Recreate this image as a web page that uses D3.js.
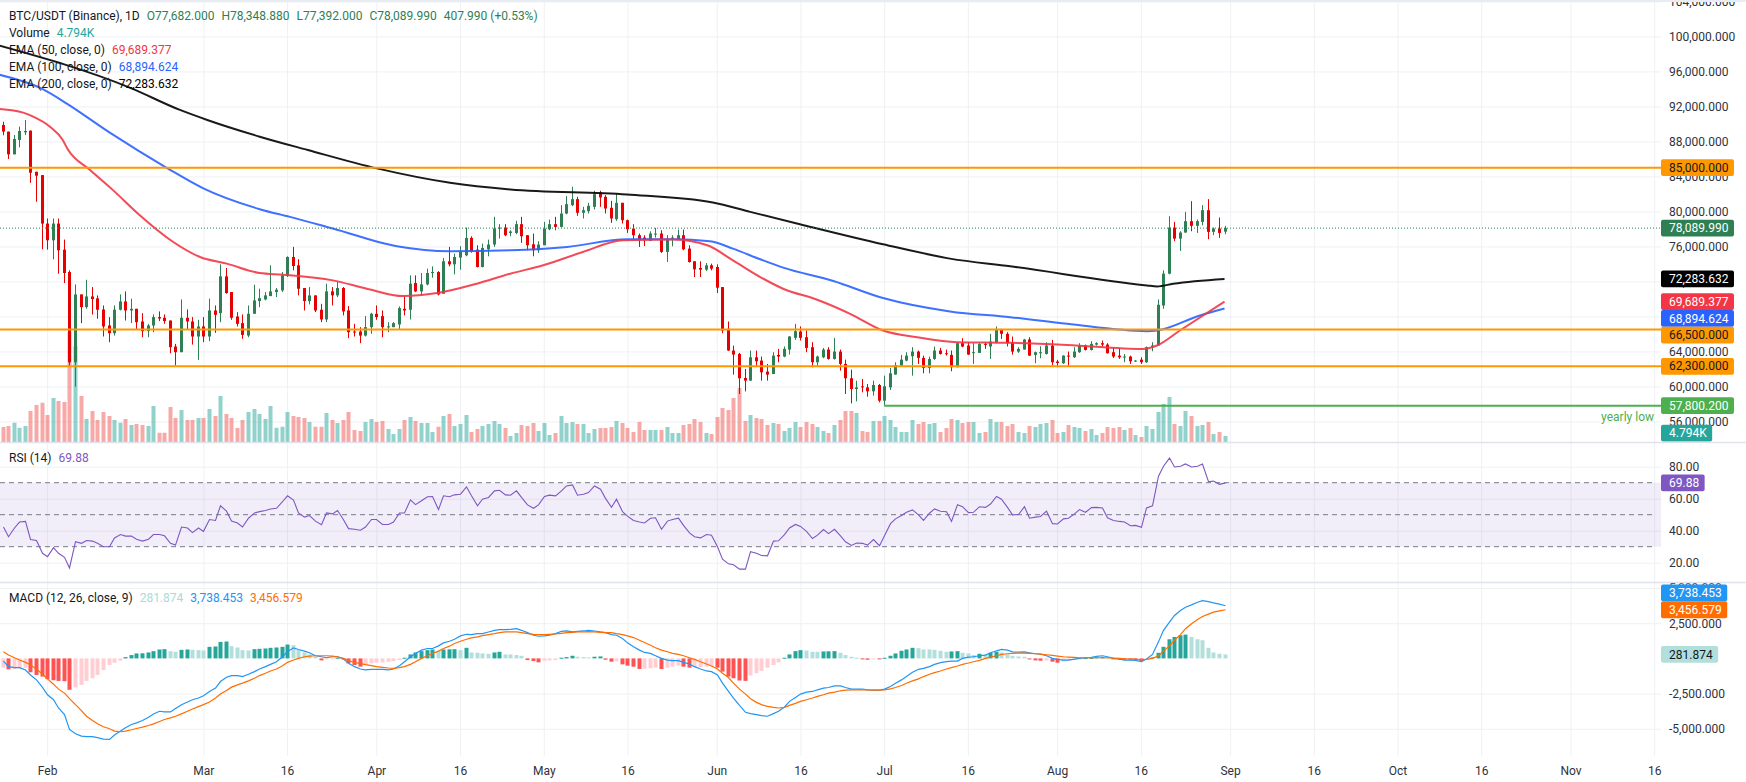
<!DOCTYPE html>
<html>
<head>
<meta charset="utf-8">
<script src="https://cdn.jsdelivr.net/npm/d3@7"></script>
<style>
  body { margin: 0; background: #fff; }
  svg { display: block; font-family: Roboto, "Noto Sans", sans-serif; }
</style>
</head>
<body>
<svg id="chart" width="1746" height="782"></svg>
<script>
// first candle is 24 Jan 2026, one candle per day
var startDay = Date.UTC(2026, 0, 24);

var opens = [
  89880,89120,86520,88160,89040,89230,84530,84150,78610,76700,
  78610,75630,73070,62760,70510,69060,70280,70060,68790,66960,
  66080,68760,69710,68680,68870,67420,66310,66960,67920,67840,
  67530,64560,63910,67840,67420,65700,66850,65700,68680,68370,
  72580,70780,67990,67230,65810,68300,69750,69940,70320,70780,
  70970,72610,74790,73840,71240,69750,70400,68760,67650,70860,
  70400,71240,68680,66270,66270,65810,66770,68300,68030,66770,
  66770,67080,68870,68760,71810,70860,71660,72960,73070,70590,
  74300,73950,74720,74980,76970,75630,73650,75670,76210,78040,
  78150,77540,77540,78540,77280,76240,75560,76130,77960,78540,
  78230,79760,80710,81400,79840,80030,80520,82130,81670,80410,
  79110,80980,78990,78040,77280,77010,76630,77350,77470,75370,
  76890,76780,77280,75750,74300,73530,73340,73840,73650,71350,
  66580,64100,63710,60960,60660,63330,62950,61690,61420,63600,
  63410,64210,65550,66270,65620,64480,62760,63330,64210,63140,
  63980,62570,60930,59700,60010,59890,59440,60160,58370,59890,
  61350,62380,62950,63450,63980,63260,62110,63140,64100,63790,
  63600,62190,64940,64670,63830,63830,64860,64560,65050,66460,
  66010,65050,63980,64210,65360,63600,63790,63710,64670,62840,
  62650,63520,63330,63910,64670,64170,64780,64940,64780,63910,
  63520,63330,63410,62870,63060,62760,64480,64670,69250,72880,
  78150,76890,77580,78880,78350,78800,80140,77660,78040,77682
];
var highs = [
  90250,89120,88740,89690,90450,89230,84530,84150,79190,79190,
  79190,76780,73270,71660,70510,72190,71350,70400,69250,67920,
  69250,70510,70860,70020,68870,68370,67150,68220,68570,68220,
  67530,64860,69940,68790,67920,67610,67920,70020,69250,73950,
  73530,70780,68490,68220,69250,71620,71160,70780,73840,71240,
  73070,74870,75940,74530,71240,71350,70400,69440,71740,71350,
  71930,71350,69180,67150,66770,68030,68400,69250,68680,67340,
  67340,69140,70400,72690,72690,72960,73460,73720,73170,74680,
  75940,75170,76020,78150,77160,76130,76320,76780,79380,78540,
  78540,77850,78920,79380,77280,77470,76590,78800,79070,79380,
  80710,81750,82810,81670,80520,80980,82360,82360,81860,81210,
  81970,80980,79070,78540,77470,77280,77730,78120,77850,77280,
  77280,77920,77920,76130,74300,74300,74100,74030,73950,71350,
  67420,64670,63830,62000,64100,64100,63410,62570,63910,64290,
  64560,65750,67150,66850,66390,65050,63520,64400,64480,65550,
  64210,63060,61920,60660,60850,60280,60660,60280,61230,62110,
  62760,63600,63910,64480,64100,63520,63410,64560,64400,64210,
  64100,65050,65510,65050,64940,64940,65050,66010,66850,66580,
  66200,65700,64480,65430,65620,63980,64590,65050,65320,63030,
  63560,63980,64480,64940,64780,65170,65050,65240,64940,64480,
  64400,63710,63520,63000,63330,64560,65050,69940,73260,79450,
  78800,77730,79950,81170,79070,80710,81400,78150,79300,78348.88
];
var lows = [
  88700,85990,86520,87320,88740,83270,81100,75670,75630,74520,
  72880,71810,62260,59970,67230,68870,68220,67730,65700,65050,
  65810,68680,67530,67230,66460,65620,65620,66200,67460,67150,
  63790,62380,63910,66460,64780,63030,65050,65170,66120,67340,
  70590,67610,66850,65430,65620,68300,69060,69830,70320,70210,
  70780,72500,73260,70400,68680,69370,68490,67340,67340,69250,
  70210,68110,65510,65700,64940,65700,66010,67610,65620,66200,
  66770,66500,68110,67650,70780,70400,71550,72420,70400,70590,
  73720,72810,73340,74870,75290,73600,73600,74870,75940,76890,
  77160,77160,77390,76400,75560,74870,75250,76130,77850,77850,
  78150,79680,80600,79490,79190,79760,80220,80520,79760,78690,
  78920,78610,77540,76700,75940,76050,76630,77010,75250,74220,
  76010,76780,75560,74150,72500,72500,73190,73260,70670,66080,
  64050,61350,59130,59430,60660,62260,60660,60660,61420,62760,
  63330,63640,65320,65240,63910,62190,62260,63220,63060,63060,
  61800,59130,58060,58290,59320,58820,58940,58180,57800,59590,
  61350,62260,62870,61230,62570,61500,61500,63030,63640,63520,
  61730,62190,64480,63600,62570,63830,64290,63140,64940,65430,
  64560,63640,63830,64210,63480,62650,63220,63640,62380,62190,
  62570,62300,63260,63830,64100,64100,64670,64560,63750,63260,
  63140,62760,62570,62800,62570,62680,64020,64670,68870,72810,
  76590,75480,77580,77730,77540,78420,76820,77280,76970,77392
];
var closes = [
  89120,86520,88280,89190,89190,84420,84080,78610,76700,78610,
  75560,72960,62760,70510,69060,70280,69980,68760,66850,66080,
  68760,69710,68680,68870,67340,66310,66960,67920,67760,67460,
  64480,63910,67840,67420,65700,66850,65700,68680,68180,72580,
  70670,67840,67150,65890,68300,69830,70090,70400,70860,71050,
  72690,74790,73760,71160,69750,70400,68680,67650,70860,70400,
  71240,68570,66200,66200,65810,66770,68300,67920,66770,66860,
  67230,68950,68680,71740,70860,71660,72960,73070,70510,74300,
  73950,74790,75370,76970,75370,73650,75820,76210,78040,78150,
  77280,77700,78540,77160,76130,75560,76210,78040,78540,78230,
  79760,80830,81400,79840,80140,80640,81970,81590,80330,79190,
  80980,78990,77960,77280,76700,76700,77470,77470,75370,76890,
  77010,77280,75670,74220,73380,73340,73840,73460,71280,66390,
  64100,63640,60930,60660,63330,62870,61610,61350,63520,63410,
  64290,65700,66310,65550,64400,62760,63410,64210,63140,63980,
  62570,60930,59700,59890,59890,59440,60160,58370,60010,61500,
  62450,63060,63520,63980,63260,62110,63140,64100,63710,63710,
  62190,64940,64560,63640,63910,64860,64750,65130,66460,66010,
  64940,63980,64290,65360,63520,63910,63910,64670,62760,62680,
  63520,63450,63980,64670,64170,64860,64940,64780,63790,63410,
  63330,63410,62870,62950,62760,64480,64670,69330,72880,78150,
  76890,77580,78880,78350,78880,80140,77660,78040,77540,78089.99
];
// volume in thousands of BTC
var volumes = [
  12,12.8,15.4,11.4,12.8,24.8,29.6,31.4,21.6,35.2,
  32.8,32,88,76.8,36.8,18.4,24.8,17.6,24,20.8,
  17.6,15.4,18.4,13.6,14.4,13.6,12.8,28.8,7.4,7.4,
  28,19.2,25.6,17.6,17.6,19.2,19.2,26.4,20.8,36.8,
  22.4,19.2,11.2,17.6,24,26.4,22.4,18.4,28.8,11.4,
  12.2,24,20.8,20,19.2,16,12.2,12.2,23.2,17.6,
  15.2,17.6,24,9.6,8.8,16,18.4,16,16.8,10.4,
  6.4,10.4,17.6,20,16.8,15.2,15.2,8,12.2,20.8,
  22.4,12.8,14.4,21.6,8,10.4,12.8,14.4,16.8,14.4,
  11.2,4.8,7.2,13.6,12.8,15.2,8.8,15.2,5.6,7.2,
  20.8,15.2,16,14.4,14.4,7.2,10.4,11.2,11.2,12,
  16.8,15.2,11.2,8,16,9.6,9.6,9.6,9.6,12,
  7.2,7.2,13.6,14.4,18.4,16,7.2,6.4,20,27.2,
  25.6,35.2,43.2,16.8,21.6,19.2,18.4,13.6,15.2,14.4,
  8.8,11.2,16,12,16,14.4,12,8.8,7.2,13.6,
  17.6,24.8,24.8,23.2,8.8,8,16.8,16.8,20.8,17.6,
  12,8,8,17.6,14.4,16,14.4,15.2,8,11.2,
  18.4,17.6,15.2,16,16,7.2,8,18.4,16,16,
  12.8,14.4,8,7.2,12.8,12,14.4,15.2,17.6,7.2,
  8,13.6,12,11.2,8.8,10.4,5.6,7.2,12,11.2,
  12,9.6,11.2,5.6,4,12.8,10.4,24,30.4,36,
  14.4,12.8,24.8,20.8,12.8,13.6,16,6.4,8,4.794
];

// EMA lines: [day index, value]
var ema50 = [[-0.5,91715],[3.7,91291],[5.5,90832],[8.5,89686],[10.8,88162],[11.7,87093],[15.7,84724],
  [19.8,82432],[24.6,79567],[30.6,76507],[35.4,74792],[40.2,74029],[46.1,72958],[50.3,72767],[59.2,72118],
  [65.3,71163],[71.8,70318],[77.9,70666],[85,71736],[91,72882],[96.9,73837],[104,75365],[111.2,76702],
  [120.2,76778],[126.3,76129],[130.9,74410],[135.8,72500],[139.9,71163],[146,69903],[151.9,68298],
  [157.8,66388],[163.9,65623],[171.1,65050],[180.6,64975],[190.8,64745],[204.4,64287],[206.9,64669],
  [211,66388],[219,69689.377]];
var ema100 = [[-0.5,95611],[7.3,93950],[11.6,92288],[19.3,88965],[29.5,84953],[35.9,82661],[46.1,80255],
  [51.5,79376],[59.2,78039],[70.7,76015],[80.2,75441],[91,75556],[101.2,75938],[111.9,76816],[120.2,76816],
  [126.8,76587],[130.9,75747],[135.8,74525],[139.9,73570],[148.9,72041],[157.8,70093],[169.8,68565],
  [180.6,67916],[190.8,67152],[205.1,66311],[206.9,66388],[214.6,68108],[219,68894.624]];
var ema200 = [[-0.5,98934],[22.9,94121],[31.8,91597],[36.7,90451],[46.1,88540],[54.7,87016],[67.1,84915],
  [80.2,83272],[91,82508],[111.9,81935],[127.3,81019],[134,79949],[142.9,78536],[157.8,76244],[169.8,74602],
  [180.6,73723],[205.1,71545],[206.9,71430],[209.8,71736],[219,72283.632]];

var rsi = [
  42.3,36.2,41.7,45.4,45.8,34.5,33.9,25.9,23.8,29.4,
  25.9,23.4,16.7,33.1,32.1,33.9,33.5,32.1,30,30,
  35.5,37.6,36.6,36.6,34.7,33.5,34.7,37.6,37.6,36.8,
  32.1,31,42.3,41.7,38.8,41.7,39.6,47,46.4,55.6,
  52.2,46,44.8,42.3,47.8,51.1,51.9,52.6,53.6,54,
  58.1,61.8,59.1,51.1,48.5,49.5,46,43.7,51.1,50.5,
  52.6,46.8,41.3,40.9,40.3,42.3,47,47,43.9,43.9,
  45.4,51.1,51.1,59.3,56.3,58.7,61.2,61.4,53.2,61.8,
  61.2,62.4,62.8,67.3,61.8,55.6,59.7,60.8,64.9,65.3,
  62.4,62.2,64.9,60.8,56.1,54,56.1,61.4,62.2,61.8,
  64.9,68,68.6,62.2,62.8,63.8,68,65.9,60.2,54.6,
  59.7,51.9,49.1,46.4,45.4,44.8,47.8,48.1,40.9,46,
  47,47.8,43.3,38.6,36.2,35.5,37.6,37.2,30,22.2,
  19.3,18.7,16,16,26.9,25.9,24.5,24.3,33.5,33.7,
  37.6,41.7,43.9,42.7,39.6,35.1,37.2,40.7,38.2,40.9,
  36.8,33.1,30.8,32.3,32.1,31,34.5,30.6,36.8,44.4,
  47.4,49.5,51.5,53,49.9,46.4,50.9,53.6,52.2,51.9,
  45.8,56.3,55,51.3,51.5,55,54.6,56.7,61.4,59.7,
  54.6,49.9,50.1,55,47.8,48.5,48.9,52.2,44.4,44.2,
  47.4,47.8,50.5,53.2,51.5,54.4,54.6,54.2,48.1,46.4,
  45.8,45.4,43.1,43.3,42.1,54.2,55.6,74.1,80.3,85.4,
  79.8,80.3,81.7,79.8,80.3,81.7,70.6,71,69,69.88
];
var macd = [
  -188,-587,-657,-657,-821,-1174,-1526,-2065,-2582,-2934,
  -3521,-3990,-5046,-5351,-5515,-5562,-5562,-5633,-5727,-5750,
  -5445,-5163,-4929,-4694,-4577,-4412,-4178,-3943,-3755,-3802,
  -3802,-3567,-3286,-3098,-2934,-2816,-2652,-2347,-2112,-1643,
  -1338,-1220,-1220,-1291,-1127,-939,-751,-587,-422,-235,
  117,469,751,634,516,399,188,117,47,117,
  117,-47,-352,-587,-751,-821,-775,-775,-775,-821,
  -751,-516,-235,117,352,587,704,704,892,1103,
  1220,1361,1596,1713,1690,1760,1760,1878,1995,2042,
  2042,2065,2112,1995,1831,1643,1572,1596,1643,1760,
  1925,1948,1878,1925,1948,1995,1948,1878,1831,1690,
  1643,1408,1103,821,587,422,352,188,0,-117,
  -164,-164,-282,-399,-587,-751,-892,-939,-1174,-1760,
  -2347,-2816,-3333,-3826,-3919,-3990,-4060,-4107,-3919,-3755,
  -3450,-3051,-2769,-2535,-2394,-2347,-2230,-2112,-2065,-1948,
  -1948,-2065,-2183,-2183,-2183,-2230,-2253,-2253,-2183,-1995,
  -1760,-1526,-1291,-986,-775,-704,-587,-422,-305,-235,
  -188,-188,0,94,117,188,235,399,540,634,
  587,469,446,469,399,329,305,188,0,-70,
  -117,-117,-47,0,47,70,141,188,117,0,
  -47,-117,-117,-141,-235,-47,282,1174,1995,2582,
  3051,3403,3638,3802,3990,4107,4037,3943,3849,3738.453
];
var signal = [
  469,235,47,-117,-282,-469,-751,-1127,-1455,-1831,
  -2183,-2464,-2863,-3286,-3708,-4107,-4412,-4647,-4858,-4999,
  -5163,-5210,-5163,-5070,-4976,-4882,-4764,-4647,-4483,-4342,
  -4225,-4107,-3943,-3755,-3591,-3427,-3286,-3098,-2816,-2535,
  -2277,-2042,-1878,-1760,-1596,-1408,-1220,-1056,-892,-751,
  -516,-282,-117,0,117,164,188,188,188,164,
  117,0,-164,-282,-376,-446,-516,-587,-634,-681,
  -704,-657,-587,-422,-235,0,188,352,516,704,
  868,1056,1220,1361,1455,1526,1619,1690,1760,1831,
  1878,1878,1878,1831,1760,1713,1690,1690,1713,1737,
  1784,1831,1854,1878,1878,1901,1878,1854,1831,1831,
  1760,1690,1596,1479,1291,1127,939,751,587,469,
  352,282,188,47,-70,-235,-399,-540,-751,-1056,
  -1361,-1760,-2183,-2535,-2863,-3122,-3286,-3403,-3474,-3521,
  -3474,-3333,-3192,-3051,-2934,-2816,-2699,-2582,-2464,-2394,
  -2300,-2253,-2230,-2230,-2230,-2230,-2253,-2253,-2230,-2159,
  -2065,-1925,-1760,-1596,-1455,-1291,-1127,-1009,-892,-751,
  -657,-540,-422,-329,-235,-141,0,94,188,282,
  329,352,376,376,352,329,305,258,211,164,
  117,94,70,47,47,47,47,47,47,23,
  0,-23,-47,-47,-94,-70,0,188,516,892,
  1291,1690,2112,2464,2769,2981,3145,3286,3380,3456.579
];
var hist = [
  -657,-775,-751,-704,-657,-986,-1174,-1291,-1479,-1549,
  -1596,-1620,-2230,-2065,-1878,-1596,-1408,-1174,-821,-469,
  -305,-164,94,235,352,364,422,516,634,657,
  516,469,610,634,610,587,563,821,845,1174,
  1197,868,775,587,563,657,681,704,751,775,
  821,986,939,587,422,282,117,-141,-47,-23,
  47,-47,-352,-469,-587,-469,-352,-305,-282,-235,
  -188,-117,47,282,422,516,587,634,540,634,
  645,657,587,751,422,399,352,329,422,469,
  282,282,235,188,-117,-188,-282,-164,-141,-117,
  47,94,188,117,94,70,117,141,-94,-235,
  -211,-422,-516,-587,-751,-728,-704,-657,-751,-657,
  -587,-516,-587,-657,-634,-610,-587,-563,-657,-939,
  -1291,-1408,-1572,-1596,-1220,-1056,-892,-657,-469,-282,
  47,282,516,587,563,469,469,493,505,516,
  399,235,117,47,-70,-94,-47,-70,47,188,
  352,540,634,751,728,634,634,610,540,469,
  493,516,399,352,235,329,282,399,469,422,
  282,188,141,117,-47,-141,-164,-141,-235,-305,
  -235,-164,-117,-47,23,35,70,94,47,-70,
  -82,-94,-106,-117,-188,-47,70,399,821,1361,
  1526,1643,1690,1526,1361,1291,751,422,329,281.874
];

var priceTicks = [56000,60000,64000,68000,72000,76000,80000,84000,88000,92000,96000,100000,104000];
var rsiTicks = [20,40,60,80];
var macdTicks = [-5000,-2500,2500,5000];
var dateTicks = ["2026-02-01","2026-03-01","2026-03-16","2026-04-01","2026-04-16","2026-05-01","2026-05-16",
  "2026-06-01","2026-06-16","2026-07-01","2026-07-16","2026-08-01","2026-08-16","2026-09-01","2026-09-16",
  "2026-10-01","2026-10-16","2026-11-01","2026-11-16"];
var dateLabels = ["Feb","Mar","16","Apr","16","May","16","Jun","16","Jul","16","Aug","16","Sep","16","Oct","16","Nov","16"];
var levels = [85000, 66500, 62300];
var yearlyLow = 57800.2, yearlyLowDay = 158;

// ---- layout ----
var W = 1746, plotR = 1661;
var mainBot = 442, rsiBot = 582, macdBot = 756;
var green = "#2e8054", red = "#e60000";
var textCol = "#131722", axisCol = "#2f323c", gridCol = "#eef0f4";

var loc = d3.formatLocale({decimal: ".", thousands: ",", grouping: [3], currency: ["$", ""], minus: "-"});
var fmt3 = loc.format(",.3f"), fmt2 = loc.format(".2f");

function dayDate(i) { return new Date(startDay + i * 864e5); }
var x = d3.scaleUtc().domain([dayDate(0), dayDate(297)]).range([2.5, 2.5 + 297 * 5.58]);
function xc(i) { return Math.round(x(dayDate(i))); }

var yP = d3.scaleLinear().domain([60000, 100000]).range([386.4, 36.4]);
var yV = d3.scaleLinear().domain([0, 100]).range([mainBot, 317]);
var yR = d3.scaleLinear().domain([20, 80]).range([562.7, 466.7]);
var yM = d3.scaleLinear().domain([-5000, 2500]).range([728.8, 623.2]);

var svg = d3.select("#chart");
svg.append("rect").attr("width", W).attr("height", 782).attr("fill", "#fff");

var defs = svg.append("defs");
function clip(id, y0, y1, w) {
  defs.append("clipPath").attr("id", id).append("rect")
    .attr("x", 0).attr("y", y0).attr("width", w).attr("height", y1 - y0);
  return "url(#" + id + ")";
}
var clipMain = clip("cMain", 0, mainBot, plotR),
    clipRsi = clip("cRsi", mainBot, rsiBot, plotR),
    clipMacd = clip("cMacd", rsiBot, macdBot, plotR),
    clipMainAx = clip("cMainAx", 0, mainBot, W),
    clipRsiAx = clip("cRsiAx", mainBot, rsiBot, W),
    clipMacdAx = clip("cMacdAx", rsiBot, macdBot, W);

function gridStyle(g) {
  g.select(".domain").remove();
  g.selectAll(".tick line").attr("stroke", gridCol);
}

// ---- grids ----
var tickDates = dateTicks.map(function(s) { return new Date(s + "T00:00:00Z"); });
svg.append("g").call(d3.axisBottom(x).tickValues(tickDates).tickSize(macdBot).tickFormat("")).call(gridStyle);
svg.append("g").attr("clip-path", clipMain)
  .call(d3.axisLeft(yP).tickValues(priceTicks).tickSize(-plotR).tickFormat("")).call(gridStyle);
svg.append("g").attr("clip-path", clipRsi)
  .call(d3.axisLeft(yR).tickValues(rsiTicks).tickSize(-plotR).tickFormat("")).call(gridStyle);
svg.append("g").attr("clip-path", clipMacd)
  .call(d3.axisLeft(yM).tickValues(macdTicks).tickSize(-plotR).tickFormat("")).call(gridStyle);

var idx = d3.range(closes.length);
function up(i) { return closes[i] >= opens[i]; }

// ---- main pane ----
var main = svg.append("g").attr("clip-path", clipMain);

main.selectAll("rect.vol").data(idx).join("rect")
  .attr("x", function(i) { return xc(i) - 1.5; })
  .attr("width", 4)
  .attr("y", function(i) { return yV(volumes[i]); })
  .attr("height", function(i) { return mainBot - yV(volumes[i]); })
  .attr("fill", function(i) { return up(i) ? "rgba(38,166,154,0.5)" : "rgba(239,83,80,0.5)"; });

main.selectAll("line.wick").data(idx).join("line")
  .attr("x1", function(i) { return xc(i) + 0.5; })
  .attr("x2", function(i) { return xc(i) + 0.5; })
  .attr("y1", function(i) { return yP(highs[i]); })
  .attr("y2", function(i) { return yP(lows[i]); })
  .attr("stroke", function(i) { return up(i) ? green : red; })
  .attr("stroke-width", 1);

main.selectAll("rect.body").data(idx).join("rect")
  .attr("x", function(i) { return xc(i) - 1; })
  .attr("width", 3)
  .attr("y", function(i) { return yP(Math.max(opens[i], closes[i])); })
  .attr("height", function(i) { return Math.max(1, Math.abs(yP(opens[i]) - yP(closes[i]))); })
  .attr("fill", function(i) { return up(i) ? green : red; });

var emaLine = d3.line()
  .x(function(d) { return x(dayDate(d[0])); })
  .y(function(d) { return yP(d[1]); })
  .curve(d3.curveMonotoneX);
[[ema200, "#000000"], [ema100, "#2962ff"], [ema50, "#f23645"]].forEach(function(e) {
  main.append("path").attr("d", emaLine(e[0])).attr("fill", "none")
    .attr("stroke", e[1]).attr("stroke-width", 2).attr("stroke-opacity", 0.9);
});

levels.forEach(function(v) {
  main.append("line").attr("x1", 0).attr("x2", plotR)
    .attr("y1", yP(v)).attr("y2", yP(v))
    .attr("stroke", "#ff9800").attr("stroke-width", 2);
});
main.append("line").attr("x1", x(dayDate(yearlyLowDay))).attr("x2", plotR)
  .attr("y1", yP(yearlyLow)).attr("y2", yP(yearlyLow))
  .attr("stroke", "#4caf50").attr("stroke-width", 2);
main.append("text").attr("x", plotR - 7).attr("y", yP(yearlyLow) + 15)
  .attr("text-anchor", "end").attr("font-size", 12).attr("fill", "#4caf50").text("yearly low");

var last = closes.length - 1;
main.append("line").attr("x1", 0).attr("x2", plotR)
  .attr("y1", yP(closes[last])).attr("y2", yP(closes[last]))
  .attr("stroke", green).attr("stroke-dasharray", "1,2");

// ---- RSI pane ----
var rp = svg.append("g").attr("clip-path", clipRsi);
rp.append("rect").attr("x", 0).attr("width", plotR)
  .attr("y", yR(70)).attr("height", yR(30) - yR(70))
  .attr("fill", "rgba(126,87,194,0.1)");
[70, 50, 30].forEach(function(v) {
  rp.append("line").attr("x1", 0).attr("x2", plotR - 5)
    .attr("y1", yR(v)).attr("y2", yR(v))
    .attr("stroke", "#787b86").attr("stroke-dasharray", "5,4");
});
rp.append("path").datum(rsi)
  .attr("d", d3.line().x(function(d, i) { return xc(i) + 0.5; }).y(function(d) { return yR(d); }))
  .attr("fill", "none").attr("stroke", "#7e57c2").attr("stroke-width", 1.1);

// ---- MACD pane ----
var mp = svg.append("g").attr("clip-path", clipMacd);
function histColor(i) {
  var prev = i > 0 ? hist[i - 1] : -Infinity;
  if (hist[i] >= 0) return prev < hist[i] ? "#26a69a" : "#b2dfdb";
  return prev < hist[i] ? "#ffcdd2" : "#ff5252";
}
mp.selectAll("rect.h").data(idx).join("rect")
  .attr("x", function(i) { return xc(i) - 1.5; })
  .attr("width", 4)
  .attr("y", function(i) { return Math.min(yM(0), yM(hist[i])); })
  .attr("height", function(i) { return Math.max(1, Math.abs(yM(hist[i]) - yM(0))); })
  .attr("fill", histColor);
var mLine = d3.line().x(function(d, i) { return xc(i) + 0.5; }).y(function(d) { return yM(d); });
mp.append("path").datum(macd).attr("d", mLine).attr("fill", "none").attr("stroke", "#2196f3").attr("stroke-width", 1.2);
mp.append("path").datum(signal).attr("d", mLine).attr("fill", "none").attr("stroke", "#ff6d00").attr("stroke-width", 1.2);

// ---- axes ----
function axisStyle(g) {
  g.select(".domain").remove();
  g.selectAll("text").attr("font-size", 12).attr("fill", axisCol)
    .attr("font-family", "Roboto, 'Noto Sans', sans-serif");
}
svg.append("g").attr("transform", "translate(" + plotR + ",0)").attr("clip-path", clipMainAx)
  .call(d3.axisRight(yP).tickValues(priceTicks).tickSize(0).tickPadding(8).tickFormat(fmt3)).call(axisStyle)
  .attr("transform", "translate(" + plotR + ",0)");
svg.append("g").attr("transform", "translate(" + plotR + ",0)")
  .call(d3.axisRight(yR).tickValues(rsiTicks).tickSize(0).tickPadding(8).tickFormat(fmt2)).call(axisStyle);
var macdAx = svg.append("g").attr("clip-path", clipMacdAx);
macdAx.append("g").attr("transform", "translate(" + plotR + ",0)")
  .call(d3.axisRight(yM).tickValues(macdTicks).tickSize(0).tickPadding(8).tickFormat(fmt3)).call(axisStyle);
svg.append("g").attr("transform", "translate(0,760)")
  .call(d3.axisBottom(x).tickValues(tickDates).tickSize(0).tickPadding(6)
    .tickFormat(function(d, i) { return dateLabels[i]; }))
  .call(axisStyle);

// ---- price labels on the scale ----
var labelH = 16.8;
function drawLabels(list, dir) {
  list.forEach(function(l) { l.y = l.y !== undefined ? l.y : l.scale(l.v); });
  list.sort(function(a, b) { return a.y - b.y; });
  if (dir === "down") {
    for (var i = 1; i < list.length; i++) list[i].y = Math.max(list[i].y, list[i - 1].y + labelH);
  } else {
    for (var j = list.length - 2; j >= 0; j--) list[j].y = Math.min(list[j].y, list[j + 1].y - labelH);
  }
  list.forEach(function(l) {
    var g = svg.append("g");
    var r = g.append("rect").attr("x", plotR).attr("y", l.y - labelH / 2).attr("height", labelH)
      .attr("rx", 2).attr("fill", l.bg);
    var t = g.append("text").attr("x", plotR + 8).attr("y", l.y).attr("dy", "0.35em")
      .attr("font-size", 12).attr("fill", l.fg).text(l.t);
    r.attr("width", t.node().getComputedTextLength() + 13.5);
  });
}
drawLabels([
  {v: 85000, scale: yP, bg: "#ff9800", fg: textCol, t: fmt3(85000)},
  {v: closes[last], scale: yP, bg: green, fg: "#fff", t: fmt3(closes[last])},
  {v: ema200[ema200.length - 1][1], scale: yP, bg: "#000", fg: "#fff", t: fmt3(ema200[ema200.length - 1][1])},
  {v: ema50[ema50.length - 1][1], scale: yP, bg: "#f23645", fg: "#fff", t: fmt3(ema50[ema50.length - 1][1])},
  {v: ema100[ema100.length - 1][1], scale: yP, bg: "#2962ff", fg: "#fff", t: fmt3(ema100[ema100.length - 1][1])},
  {v: 66500, scale: yP, bg: "#ff9800", fg: textCol, t: fmt3(66500)},
  {v: 62300, scale: yP, bg: "#ff9800", fg: textCol, t: fmt3(62300)},
  {v: yearlyLow, scale: yP, bg: "#4caf50", fg: "#fff", t: fmt3(yearlyLow)}
], "down");
drawLabels([{y: Math.min(yV(volumes[last]), mainBot - labelH / 2 - 0.5), bg: "#26a69a", fg: "#fff",
  t: loc.format(".3f")(volumes[last]) + "K"}], "down");
drawLabels([{v: rsi[last], scale: yR, bg: "#7e57c2", fg: "#fff", t: fmt2(rsi[last])}], "down");
drawLabels([
  {v: macd[last], scale: yM, bg: "#2196f3", fg: "#fff", t: fmt3(macd[last])},
  {v: signal[last], scale: yM, bg: "#ff6d00", fg: "#fff", t: fmt3(signal[last])}
], "up");
drawLabels([{v: hist[last], scale: yM, bg: "#b2dfdb", fg: textCol, t: fmt3(hist[last])}], "down");

// ---- legends ----
function legendLine(y, parts) {
  var t = svg.append("text").attr("x", 9).attr("y", y).attr("font-size", 12);
  parts.forEach(function(p, k) {
    t.append("tspan").attr("dx", k === 0 ? 0 : 7).attr("fill", p[1]).text(p[0]);
  });
}
var chg = closes[last] - opens[last];
legendLine(19.5, [["BTC/USDT (Binance), 1D", textCol],
  ["O" + fmt3(opens[last]), green], ["H" + fmt3(highs[last]), green],
  ["L" + fmt3(lows[last]), green], ["C" + fmt3(closes[last]), green],
  [fmt3(chg) + " (+" + fmt2(chg / opens[last] * 100) + "%)", green]]);
legendLine(36.8, [["Volume", textCol], [loc.format(".3f")(volumes[last]) + "K", "#26a69a"]]);
legendLine(54.1, [["EMA (50, close, 0)", textCol], [fmt3(ema50[ema50.length - 1][1]), "#f23645"]]);
legendLine(71.3, [["EMA (100, close, 0)", textCol], [fmt3(ema100[ema100.length - 1][1]), "#2962ff"]]);
legendLine(87.8, [["EMA (200, close, 0)", textCol], [fmt3(ema200[ema200.length - 1][1]), "#000"]]);
legendLine(462, [["RSI (14)", textCol], [fmt2(rsi[last]), "#7e57c2"]]);
legendLine(602, [["MACD (12, 26, close, 9)", textCol], [fmt3(hist[last]), "#a8dcd4"],
  [fmt3(macd[last]), "#2196f3"], [fmt3(signal[last]), "#ff6d00"]]);

// ---- pane borders ----
[mainBot, rsiBot].forEach(function(y) {
  svg.append("line").attr("x1", 0).attr("x2", W).attr("y1", y + 0.5).attr("y2", y + 0.5)
    .attr("stroke", "#e0e3eb").attr("stroke-width", 1.5);
});
svg.append("rect").attr("x", 0).attr("y", 0).attr("width", W).attr("height", 2).attr("fill", "#e9ecf2");
</script>
</body>
</html>
